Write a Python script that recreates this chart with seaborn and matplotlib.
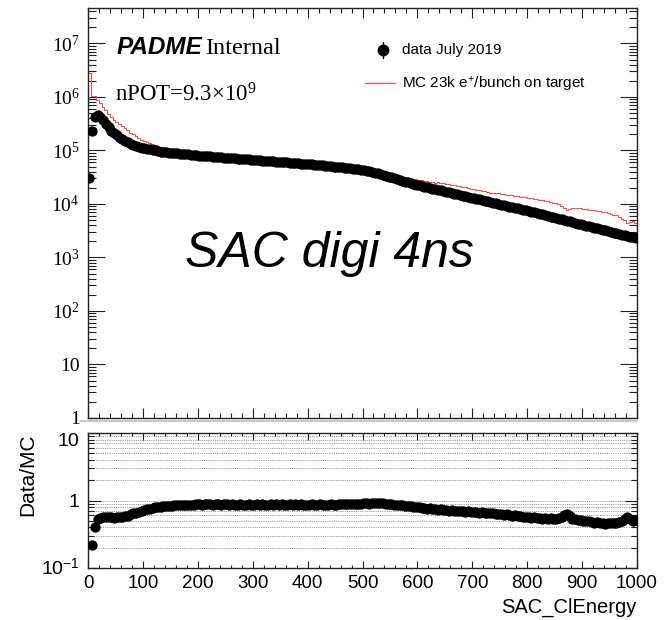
import numpy as np
import pandas as pd
import matplotlib
matplotlib.use("Agg")
import matplotlib.pyplot as plt
import seaborn as sns
from matplotlib.ticker import LogLocator, FixedLocator, MultipleLocator, FixedFormatter, NullFormatter
from matplotlib.lines import Line2D

# ---------------- data ----------------
bin_width = 5
x_min, x_max = 0, 1000
energy_centers = np.arange(x_min, x_max, bin_width) + bin_width / 2

# log10(entries) of data, July 2019
data_log10 = [
    4.48, 5.36, 5.62, 5.66, 5.63, 5.57, 5.50, 5.43, 5.37, 5.32,
    5.28, 5.24, 5.21, 5.18, 5.15, 5.13, 5.11, 5.09, 5.07, 5.05,
    5.04, 5.03, 5.02, 5.01, 5.00, 4.99, 4.98, 4.975, 4.97, 4.96,
    4.955, 4.95, 4.945, 4.94, 4.935, 4.93, 4.925, 4.92, 4.915, 4.91,
    4.905, 4.90, 4.896, 4.892, 4.888, 4.884, 4.88, 4.876, 4.872, 4.868,
    4.864, 4.86, 4.856, 4.852, 4.848, 4.844, 4.84, 4.836, 4.832, 4.828,
    4.824, 4.82, 4.816, 4.812, 4.808, 4.804, 4.80, 4.796, 4.792, 4.788,
    4.784, 4.78, 4.776, 4.772, 4.768, 4.764, 4.76, 4.756, 4.752, 4.748,
    4.744, 4.74, 4.735, 4.73, 4.725, 4.72, 4.715, 4.71, 4.705, 4.70,
    4.695, 4.69, 4.684, 4.678, 4.672, 4.666, 4.66, 4.654, 4.647, 4.64,
    4.63, 4.62, 4.61, 4.60, 4.585, 4.57, 4.555, 4.54, 4.525, 4.51,
    4.495, 4.48, 4.465, 4.45, 4.435, 4.42, 4.405, 4.39, 4.375, 4.36,
    4.348, 4.336, 4.324, 4.312, 4.30, 4.288, 4.276, 4.264, 4.252, 4.24,
    4.228, 4.216, 4.204, 4.192, 4.18, 4.168, 4.156, 4.144, 4.132, 4.12,
    4.108, 4.096, 4.084, 4.072, 4.06, 4.048, 4.036, 4.024, 4.012, 4.00,
    3.988, 3.976, 3.964, 3.952, 3.94, 3.928, 3.916, 3.904, 3.892, 3.88,
    3.868, 3.856, 3.843, 3.830, 3.817, 3.804, 3.791, 3.778, 3.765, 3.752,
    3.739, 3.726, 3.713, 3.70, 3.687, 3.674, 3.661, 3.648, 3.635, 3.622,
    3.609, 3.596, 3.583, 3.57, 3.557, 3.544, 3.531, 3.518, 3.505, 3.492,
    3.479, 3.466, 3.453, 3.44, 3.427, 3.414, 3.401, 3.388, 3.375, 3.362,
]

# log10(entries) of MC, 23k e+/bunch on target
mc_log10 = [
    6.45, 6.02, 6.01, 5.94, 5.89, 5.82, 5.75, 5.68, 5.62, 5.575,
    5.53, 5.49, 5.455, 5.415, 5.375, 5.335, 5.30, 5.27, 5.235, 5.205,
    5.18, 5.16, 5.14, 5.12, 5.10, 5.085, 5.07, 5.06, 5.052, 5.04,
    5.035, 5.022, 5.019, 5.008, 5.005, 4.994, 4.991, 4.981, 4.979, 4.968,
    4.96, 4.96, 4.948, 4.95, 4.938, 4.946, 4.935, 4.934, 4.932, 4.922,
    4.922, 4.922, 4.911, 4.912, 4.912, 4.901, 4.90, 4.899, 4.89, 4.889,
    4.884, 4.877, 4.878, 4.87, 4.872, 4.864, 4.856, 4.857, 4.851, 4.851,
    4.842, 4.842, 4.836, 4.828, 4.831, 4.823, 4.821, 4.813, 4.812, 4.812,
    4.804, 4.798, 4.798, 4.79, 4.782, 4.782, 4.78, 4.77, 4.763, 4.762,
    4.755, 4.747, 4.739, 4.736, 4.724, 4.716, 4.713, 4.702, 4.697, 4.686,
    4.672, 4.658, 4.655, 4.635, 4.625, 4.607, 4.598, 4.58, 4.571, 4.56,
    4.55, 4.54, 4.53, 4.52, 4.507, 4.498, 4.487, 4.478, 4.465, 4.458,
    4.448, 4.446, 4.429, 4.432, 4.415, 4.418, 4.401, 4.402, 4.384, 4.385,
    4.37, 4.366, 4.349, 4.347, 4.33, 4.328, 4.314, 4.309, 4.294, 4.288,
    4.278, 4.261, 4.262, 4.244, 4.24, 4.233, 4.214, 4.214, 4.207, 4.20,
    4.188, 4.186, 4.169, 4.167, 4.165, 4.148, 4.151, 4.134, 4.132, 4.13,
    4.118, 4.116, 4.088, 4.095, 4.072, 4.074, 4.051, 4.053, 4.03, 4.022,
    4.009, 3.991, 3.963, 3.92, 3.887, 3.909, 3.931, 3.928, 3.925, 3.917,
    3.909, 3.906, 3.888, 3.89, 3.887, 3.869, 3.871, 3.853, 3.85, 3.832,
    3.819, 3.796, 3.788, 3.76, 3.727, 3.694, 3.651, 3.658, 3.675, 3.652,
]

top_yticks = [1, 10, 1e2, 1e3, 1e4, 1e5, 1e6, 1e7]
top_ylabels = ["1", "10", "10$^{2}$", "10$^{3}$", "10$^{4}$", "10$^{5}$", "10$^{6}$", "10$^{7}$"]
ratio_yticks = [0.1, 1, 10]
ratio_ylabels = ["10$^{\\mathsf{-1}}$", "1", "10"]
x_ticks = [0, 100, 200, 300, 400, 500, 600, 700, 800, 900, 1000]
x_ticklabels = [str(v) for v in x_ticks]

df = pd.DataFrame({
    "SAC_ClEnergy": energy_centers,
    "data": 10 ** np.array(data_log10),
    "mc": 10 ** np.array(mc_log10),
})
df["ratio"] = df["data"] / df["mc"]

# ---------------- style ----------------
sns.set_style("ticks")
plt.rcParams["font.family"] = ["Liberation Sans", "DejaVu Sans"]
plt.rcParams["text.color"] = "black"
plt.rcParams["axes.labelcolor"] = "black"
plt.rcParams["xtick.labelcolor"] = "black"
plt.rcParams["ytick.labelcolor"] = "black"
plt.rcParams["mathtext.fontset"] = "custom"
plt.rcParams["mathtext.rm"] = "Liberation Serif"
plt.rcParams["mathtext.it"] = "Liberation Serif:italic"
plt.rcParams["mathtext.bf"] = "Liberation Serif:bold"
plt.rcParams["mathtext.sf"] = "Liberation Sans"

W, H = 664, 620
fig = plt.figure(figsize=(W / 100, H / 100), dpi=100)

def fx(px):
    return px / W

def fy(py):
    return 1 - py / H

L, R = 88, 637
ax1 = fig.add_axes([fx(L), fy(418), (R - L) / W, (418 - 8) / H])
ax2 = fig.add_axes([fx(L), fy(568), (R - L) / W, (568 - 433) / H])

frame_col = "#222222"
for ax in (ax1, ax2):
    for sp in ax.spines.values():
        sp.set_color(frame_col)
        sp.set_linewidth(1.0)
        sp.set_visible(True)

mc_color = "#ff4a4a"

# ---------------- top panel ----------------
ax1.set_yscale("log")
sns.histplot(data=df, x="SAC_ClEnergy", weights="mc", binwidth=bin_width,
             binrange=(x_min, x_max), element="step", fill=False,
             color=mc_color, linewidth=0.75, ax=ax1)
sns.scatterplot(data=df, x="SAC_ClEnergy", y="data", color="black", s=55,
                linewidth=0, ax=ax1, zorder=3)
ax1.set_xlim(0, 1000)
ax1.set_ylim(1, 4.6e7)
ax1.set_xlabel("")
ax1.set_ylabel("")
ax1.xaxis.set_major_locator(MultipleLocator(100))
ax1.xaxis.set_minor_locator(MultipleLocator(20))
ax1.xaxis.set_major_formatter(NullFormatter())
ax1.yaxis.set_major_locator(FixedLocator(top_yticks))
ax1.yaxis.set_major_formatter(FixedFormatter(top_ylabels))
ax1.yaxis.set_minor_locator(LogLocator(base=10, subs=np.arange(2, 10), numticks=100))
ax1.yaxis.set_minor_formatter(NullFormatter())
ax1.tick_params(which="both", direction="in", top=True, right=True, color=frame_col,
                width=0.8, labelcolor="black")
ax1.tick_params(axis="y", which="major", length=12, pad=6, labelsize=14)
ax1.tick_params(axis="y", which="minor", length=6)
ax1.tick_params(axis="x", which="major", length=7)
ax1.tick_params(axis="x", which="minor", length=3.5)
for lbl in ax1.get_yticklabels():
    lbl.set_fontfamily("Liberation Serif")

# legend (manual, ROOT style)
ax1.plot([0.537], [0.898], marker="o", color="black", ms=7.5, transform=ax1.transAxes, clip_on=False)
ax1.plot([0.537, 0.537], [0.878, 0.918], color="black", lw=1, transform=ax1.transAxes)
ax1.text(0.572, 0.898, "data July 2019", transform=ax1.transAxes, fontsize=11,
         va="center", ha="left")
ax1.plot([0.505, 0.559], [0.817, 0.817], color=mc_color, lw=0.9, transform=ax1.transAxes)
ax1.text(0.572, 0.817, "MC 23k e$^{\\mathsf{+}}$/bunch on target", transform=ax1.transAxes,
         fontsize=11, va="center", ha="left")

# labels
fig.text(fx(117), fy(54), "PADME", fontsize=17.5, fontweight="bold", fontstyle="italic",
         family="Liberation Sans", va="baseline", ha="left")
fig.text(fx(205), fy(54), "Internal", fontsize=17.5, family="Liberation Serif",
         va="baseline", ha="left")
fig.text(fx(115), fy(101), "nPOT=9.3\u00d710$^{9}$", fontsize=16.5, family="Liberation Serif",
         va="baseline", ha="left")
fig.text(fx(185), fy(267), "SAC digi 4ns", fontsize=36, fontstyle="italic",
         family="Liberation Sans", va="baseline", ha="left")

# ---------------- ratio panel ----------------
ax2.set_yscale("log")
for v in [0.2, 0.3, 0.4, 0.5, 0.6, 0.7, 0.8, 0.9, 1, 2, 3, 4, 5, 6, 7, 8, 9]:
    ax2.axhline(v, color="#7a7a7a", lw=0.6, ls=(0, (1, 1.2)), zorder=0)
sns.scatterplot(data=df, x="SAC_ClEnergy", y="ratio", color="black", s=55,
                linewidth=0, ax=ax2, zorder=3)
ax2.set_xlim(0, 1000)
ax2.set_ylim(0.1, 10)
ax2.set_xlabel("")
ax2.set_ylabel("")
ax2.xaxis.set_major_locator(FixedLocator(x_ticks))
ax2.xaxis.set_major_formatter(FixedFormatter(x_ticklabels))
ax2.xaxis.set_minor_locator(MultipleLocator(20))
ax2.yaxis.set_major_locator(FixedLocator(ratio_yticks))
ax2.yaxis.set_major_formatter(FixedFormatter(ratio_ylabels))
ax2.yaxis.set_minor_locator(LogLocator(base=10, subs=np.arange(2, 10), numticks=100))
ax2.yaxis.set_minor_formatter(NullFormatter())
ax2.tick_params(which="both", direction="in", top=True, right=True, color=frame_col,
                width=0.8, labelcolor="black")
ax2.tick_params(axis="y", which="major", length=9, pad=6, labelsize=14)
ax2.tick_params(axis="y", which="minor", length=4.5)
ax2.tick_params(axis="x", which="major", length=5, pad=5, labelsize=13.5)
ax2.tick_params(axis="x", which="minor", length=2.5)

fig.canvas.draw()
ylbls = ax2.get_yticklabels()
ylbls[-1].set_va("top")
ylbls[0].set_va("center")

fig.text(fx(637), fy(607), "SAC_ClEnergy", fontsize=14.5, ha="right", va="center")
fig.text(fx(28), fy(475), "Data/MC", fontsize=15, rotation=90, ha="center", va="center")

# separator line of the upper pad
fig.add_artist(Line2D([fx(80), fx(637)], [fy(420.5), fy(420.5)], color="#bdbdbd", lw=1.2))

fig.savefig("out.png", dpi=100)
